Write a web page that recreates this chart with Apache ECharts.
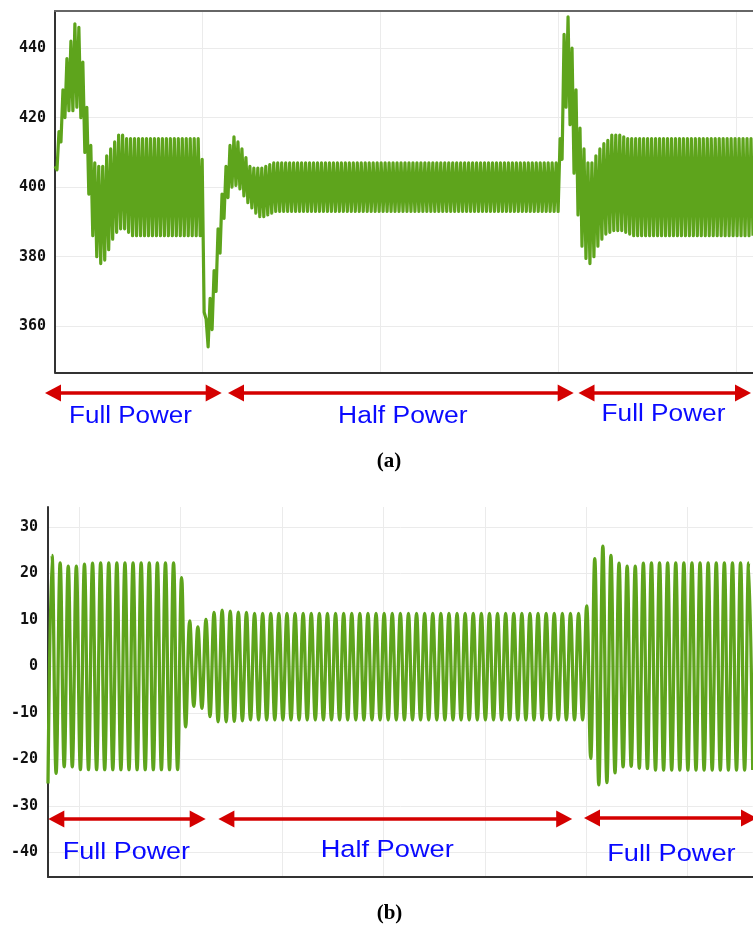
<!DOCTYPE html>
<html><head><meta charset="utf-8">
<script src="https://cdn.jsdelivr.net/npm/echarts@6/dist/echarts.min.js"></script>
<style>html,body{margin:0;padding:0;background:#fff}#c{width:753px;height:925px}</style>
</head><body><div id="c"></div>
<script>
// ---------- DATA ----------
// (a) voltage: upper and lower ripple peak of each ripple cycle
const voltHi = [
406,416,428,437,442,447,446,436,423,412,407,406,406,409,411,413,415,415,414,
414,414,414,414,414,414,414,414,414,414,414,414,414,414,414,414,414,414,
408,362,368,376,388,398,406,412,414.5,413,411,408.5,406,405.5,405.5,405.5,406,406.5,407,
407,407,407,407,407,407,407,407,407,407,
407,407,407,407,407,407,407,407,407,407,
407,407,407,407,407,407,407,407,407,407,
407,407,407,407,407,407,407,407,407,407,
407,407,407,407,407,407,407,407,407,407,
407,407,407,407,407,407,407,407,407,407,
407,407,407,407,407,407,407,407,407,407,
407,
414,444,449,440,428,417,411,407,407,409,411,412.5,413.5,415,415,415,414.5,414,
414,414,414,414,414,414,414,414,414,414,
414,414,414,414,414,414,414,414,414,414,
414,414,414,414,414,414,414,414,414,414,
414
];
const voltLo = [
405,413,420,422,422,423,420,410,398,386,380,378,379,382,385,387,388,388,387,
386,386,386,386,386,386,386,386,386,386,386,386,386,386,386,386,386,386,
364,354,359,370,381,391,397,400,400.5,399.5,397.5,395.5,394,392.5,391.5,391.5,392,392.5,393,
393,393,393,393,393,393,393,393,393,393,
393,393,393,393,393,393,393,393,393,393,
393,393,393,393,393,393,393,393,393,393,
393,393,393,393,393,393,393,393,393,393,
393,393,393,393,393,393,393,393,393,393,
393,393,393,393,393,393,393,393,393,393,
393,393,393,393,393,393,393,393,393,393,
393,
408,423,418,404,392,383,379.5,378,380,383,385,386.5,387,387.5,387.5,387.5,387,386.5,
386,386,386,386,386,386,386,386,386,386,
386,386,386,386,386,386,386,386,386,386,
386,386,386,386,386,386,386,386,386,386,
386
];
// (b) current: positive peaks and negative troughs (trough list starts before the first peak)
const curHi = [
23.9,22.3,21.6,21.6,22.0,22.2,22.3,22.3,22.3,22.3,22.3,22.3,22.3,22.3,22.3,22.3,19.1,
9.8,8.5,10.1,11.6,12.1,11.9,11.7,11.6,
11.4,11.4,11.4,11.4,11.4,11.4,11.4,11.4,11.4,11.4,
11.4,11.4,11.4,11.4,11.4,11.4,11.4,11.4,11.4,11.4,
11.4,11.4,11.4,11.4,11.4,11.4,11.4,11.4,11.4,11.4,
11.4,11.4,11.4,11.4,11.4,11.4,11.4,11.4,11.4,11.4,
11.4,
13.0,23.2,25.9,23.9,22.2,21.6,21.6,22.2,
22.3,22.3,22.3,22.3,22.3,22.3,22.3,22.3,22.3,22.3,22.3,22.3,22.3
];
const curLo = [
-25.2,-23.0,-21.6,-21.6,-22.2,-22.2,-22.2,-22.2,-22.2,-22.2,-22.2,-22.2,-22.2,-22.2,-22.2,-22.2,-22.2,
-13.0,-8.6,-9.0,-10.8,-11.9,-11.9,-11.8,-11.7,
-11.5,-11.5,-11.5,-11.5,-11.5,-11.5,-11.5,-11.5,-11.5,-11.5,
-11.5,-11.5,-11.5,-11.5,-11.5,-11.5,-11.5,-11.5,-11.5,-11.5,
-11.5,-11.5,-11.5,-11.5,-11.5,-11.5,-11.5,-11.5,-11.5,-11.5,
-11.5,-11.5,-11.5,-11.5,-11.5,-11.5,-11.5,-11.5,-11.5,-11.5,
-11.5,-11.5,
-19.8,-25.5,-25.0,-22.9,-21.6,-21.5,-21.9,-22.0,
-22.3,-22.3,-22.3,-22.3,-22.3,-22.3,-22.3,-22.3,-22.3,-22.3,-22.3,-22.3,-22.3
];
const voltTicks = [360, 380, 400, 420, 440];
const curTicks = [-40, -30, -20, -10, 0, 10, 20, 30];
const panelLabels = ["Full Power", "Half Power", "Full Power"];
const captions = ["(a)", "(b)"];

// ---------- build series from the arrays ----------
const voltData = [];
voltHi.forEach((h, i) => { voltData.push(h, voltLo[i]); });
const voltCats = voltData.map((_, i) => i);
const curData = [];
curLo.forEach((l, i) => { curData.push(l); if (i < curHi.length) curData.push(curHi[i]); });
const curCats = curData.map((_, i) => i);

const GREEN = '#5ea41c';
const RED = '#d40000';
const BLUE = '#0a0aff';
const GRIDC = '#ebebeb';
const labelStyle = { fontFamily: 'DejaVu Sans Mono', fontWeight: 'bold', fontSize: 15, color: '#111' };

function arrow(x1, x2, y) {
  const L = 16, H = 8.5;
  return [
    { type: 'line', z: 100, shape: { x1: x1 + 8, y1: y, x2: x2 - 8, y2: y }, style: { stroke: RED, lineWidth: 3.5 } },
    { type: 'polygon', z: 100, shape: { points: [[x1, y], [x1 + L, y - H], [x1 + L, y + H]] }, style: { fill: RED } },
    { type: 'polygon', z: 100, shape: { points: [[x2, y], [x2 - L, y - H], [x2 - L, y + H]] }, style: { fill: RED } }
  ];
}
function label(text, cx, cy, size, sx) {
  return { type: 'text', z: 100, x: cx, y: cy, scaleX: sx, style: { text: text, x: 0, y: 0, fill: BLUE,
    font: size + 'px "Liberation Sans", Arial, sans-serif', align: 'center', verticalAlign: 'middle',
    textAlign: 'center', textVerticalAlign: 'middle' } };
}
function caption(text, cx, cy) {
  return { type: 'text', z: 100, x: cx, y: cy, style: { text: text, x: 0, y: 0, fill: '#000',
    font: 'bold 21px "Liberation Serif", "Times New Roman", serif', align: 'center', verticalAlign: 'middle',
    textAlign: 'center', textVerticalAlign: 'middle' } };
}

const chart = echarts.init(document.getElementById('c'), null, { renderer: 'canvas' });
chart.setOption({
  animation: false,
  backgroundColor: '#fff',
  grid: [
    { left: 55, top: 11, width: 702, height: 361.3 },
    { left: 48, top: 507, width: 704.7, height: 370 }
  ],
  xAxis: [
    { type: 'category', gridIndex: 0, data: voltCats, boundaryGap: false, position: 'bottom',
      axisLine: { onZero: false, lineStyle: { color: '#333', width: 2 } },
      axisTick: { show: false }, axisLabel: { show: false }, splitLine: { show: false } },
    { type: 'value', gridIndex: 0, position: 'top', min: 17.1, max: 409.5, minInterval: 100, maxInterval: 100,
      axisLine: { show: true, onZero: false, lineStyle: { color: '#666', width: 2 } },
      axisTick: { show: false }, axisLabel: { show: false },
      splitLine: { show: true, showMinLine: false, showMaxLine: false, lineStyle: { color: GRIDC, width: 1 } } },
    { type: 'category', gridIndex: 1, data: curCats, boundaryGap: false, position: 'bottom',
      axisLine: { onZero: false, lineStyle: { color: '#333', width: 2 } },
      axisTick: { show: false }, axisLabel: { show: false }, splitLine: { show: false } },
    { type: 'value', gridIndex: 1, position: 'top', min: 172.8, max: 1910.2, minInterval: 250, maxInterval: 250,
      axisLine: { show: false, onZero: false },
      axisTick: { show: false }, axisLabel: { show: false },
      splitLine: { show: true, showMinLine: false, showMaxLine: false, lineStyle: { color: GRIDC, width: 1 } } }
  ],
  yAxis: [
    { type: 'value', gridIndex: 0, min: 346.7, max: 450.7, minInterval: 20, maxInterval: 20,
      axisLine: { show: true, onZero: false, lineStyle: { color: '#333', width: 2 } },
      axisTick: { show: false },
      axisLabel: Object.assign({ margin: 9, formatter: v => voltTicks.includes(Math.round(v)) && Math.abs(v - Math.round(v)) < 1e-6 ? String(Math.round(v)) : '' }, labelStyle),
      splitLine: { show: true, showMinLine: false, showMaxLine: false, lineStyle: { color: GRIDC, width: 1 } } },
    { type: 'value', gridIndex: 1, min: -45.3, max: 34.3, minInterval: 10, maxInterval: 10,
      axisLine: { show: true, onZero: false, lineStyle: { color: '#333', width: 2 } },
      axisTick: { show: false },
      axisLabel: Object.assign({ margin: 10, formatter: v => curTicks.includes(Math.round(v)) && Math.abs(v - Math.round(v)) < 1e-6 ? String(Math.round(v)) : '' }, labelStyle),
      splitLine: { show: true, showMinLine: false, showMaxLine: false, lineStyle: { color: GRIDC, width: 1 } } }
  ],
  series: [
    { type: 'line', xAxisIndex: 0, yAxisIndex: 0, data: voltData, showSymbol: false, symbol: 'none',
      lineStyle: { color: GREEN, width: 3.2, join: 'round' }, itemStyle: { color: GREEN }, silent: true },
    { type: 'line', xAxisIndex: 2, yAxisIndex: 1, data: curData, showSymbol: false, symbol: 'none', smooth: 0.4,
      lineStyle: { color: GREEN, width: 3.3 }, itemStyle: { color: GREEN }, silent: true }
  ],
  graphic: [].concat(
    arrow(45, 221.7, 393), arrow(228, 573.7, 393), arrow(578.5, 751, 393),
    arrow(48.3, 205.7, 819), arrow(218.4, 572.2, 819), arrow(584, 757, 818),
    [
      label(panelLabels[0], 130.5, 416.6, 23, 1.13),
      label(panelLabels[1], 402.8, 416.2, 23, 1.15),
      label(panelLabels[2], 663.5, 414.6, 23, 1.14),
      label(panelLabels[0], 126.4, 852.4, 24.5, 1.1),
      label(panelLabels[1], 387.2, 850.1, 24.5, 1.11),
      label(panelLabels[2], 671.4, 854.1, 24.5, 1.11),
      caption(captions[0], 389, 462),
      caption(captions[1], 389.5, 914)
    ]
  )
});
</script></body></html>
